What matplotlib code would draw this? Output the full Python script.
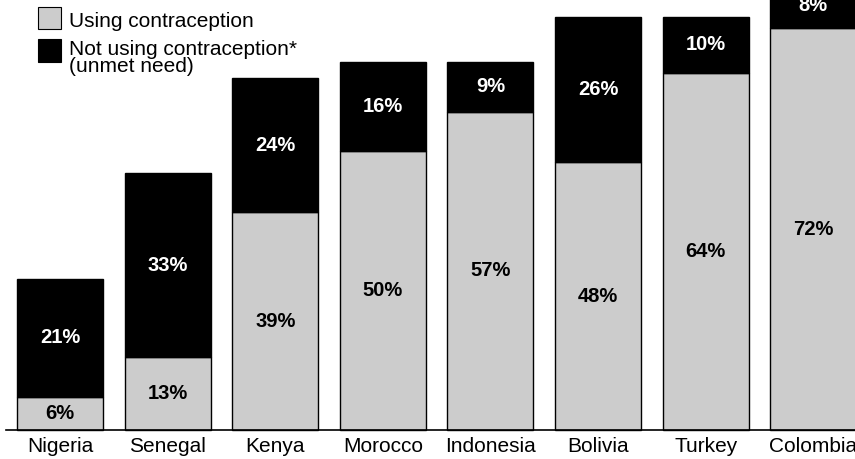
import matplotlib
matplotlib.use("Agg")
import matplotlib.pyplot as plt
from matplotlib.patches import Rectangle

countries = ["Nigeria", "Senegal", "Kenya", "Morocco", "Indonesia", "Bolivia", "Turkey", "Colombia"]
using = [6, 13, 39, 50, 57, 48, 64, 72]
unmet = [21, 33, 24, 16, 9, 26, 10, 8]

plt.rcParams['font.family'] = ['Liberation Sans', 'DejaVu Sans']

W, H = 855, 459
fig = plt.figure(figsize=(W / 100, H / 100), dpi=100)
ax = fig.add_axes([6 / W, (H - 430) / H, (W - 6) / W, 430 / H])

gray = "#cccccc"
x = list(range(len(countries)))
ax.bar(x, using, width=0.8, color=gray, edgecolor="black", linewidth=1.0, clip_on=False)
ax.bar(x, unmet, width=0.8, bottom=using, color="black", edgecolor="black", linewidth=1.0, clip_on=False)

for i, (u, n) in enumerate(zip(using, unmet)):
    ax.text(i, u / 2, f"{u}%", ha="center", va="center", fontsize=14.5, fontweight="bold", color="black")
    ax.text(i, u + n / 2, f"{n}%", ha="center", va="center", fontsize=14.5, fontweight="bold", color="white")

ax.set_xlim(-0.502, 7.388)
ax.set_ylim(0, 77.06)
ax.set_xticks(x)
ax.set_xticklabels(countries, fontsize=15)
ax.tick_params(axis="x", length=0, pad=5)
ax.set_yticks([])
for s in ["top", "right", "left"]:
    ax.spines[s].set_visible(False)
ax.spines["bottom"].set_linewidth(1.2)

def px(xp, yp):
    return xp / W, 1 - yp / H

# legend
x0, y0 = px(38, 29)
fig.patches.append(Rectangle((x0, y0), 23 / W, 22 / H, transform=fig.transFigure,
                             facecolor=gray, edgecolor="black", linewidth=0.8))
x0, y0 = px(38, 62)
fig.patches.append(Rectangle((x0, y0), 23 / W, 23 / H, transform=fig.transFigure,
                             facecolor="black", edgecolor="black", linewidth=0.8))
tx, ty = px(69, 27)
fig.text(tx, ty, "Using contraception", fontsize=15, va="baseline", ha="left")
tx, ty = px(69, 55)
fig.text(tx, ty, "Not using contraception*", fontsize=15, va="baseline", ha="left")
tx, ty = px(69, 72)
fig.text(tx, ty, "(unmet need)", fontsize=15, va="baseline", ha="left")

fig.savefig("out.png", dpi=100)
